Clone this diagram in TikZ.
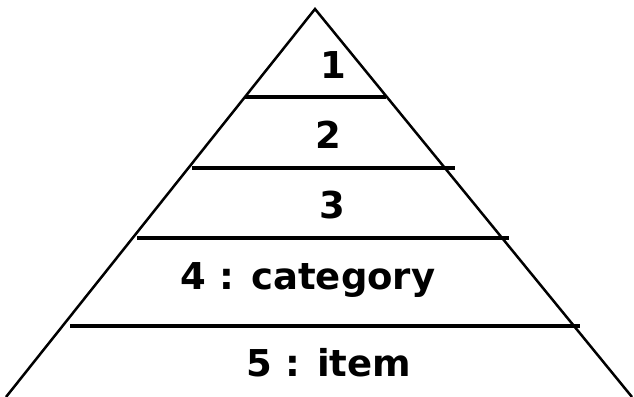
\documentclass[tikz,border=0pt]{standalone}
\usepackage{fontspec}
\setmainfont{DejaVu Sans}
\begin{document}
\begin{tikzpicture}[x=1pt, y=-1pt, every node/.style={anchor=base, font=\bfseries\fontsize{37}{40}\selectfont}]
\useasboundingbox (0,0) rectangle (634,396);
\draw[line width=2.5pt] (6,397) -- (315,9) -- (632,397);
\draw[line width=3.8pt] (245,97) -- (386,97);
\draw[line width=3.8pt] (192,168) -- (455,168);
\draw[line width=3.8pt] (137,238) -- (509,238);
\draw[line width=3.8pt] (70,326) -- (580,326);
\node (l1) at (333,78) {1};
\node (l2) at (328,148) {2};
\node (l3) at (332,218) {3};
\node (l4) at (308,289) {4 : category};
\node (l5) at (329,376) {5 : item};
\end{tikzpicture}
\end{document}
